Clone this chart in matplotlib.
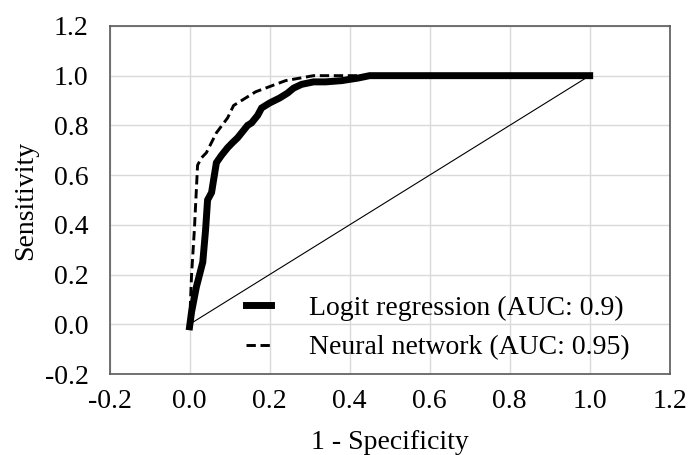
import matplotlib
matplotlib.use('Agg')
import matplotlib.pyplot as plt

# ROC points
logit_fpr = [0.0, 0.005, 0.017, 0.033, 0.04, 0.045, 0.055, 0.067, 0.08, 0.095, 0.107,
             0.12, 0.13, 0.145, 0.155, 0.17, 0.18, 0.2, 0.225, 0.245, 0.26, 0.28, 0.31,
             0.34, 0.38, 0.42, 0.45, 1.0]
logit_tpr = [-0.01, 0.05, 0.15, 0.25, 0.38, 0.50, 0.53, 0.65, 0.68, 0.71, 0.73,
             0.75, 0.77, 0.80, 0.81, 0.84, 0.87, 0.89, 0.91, 0.93, 0.95, 0.965, 0.975,
             0.975, 0.98, 0.99, 1.0, 1.0]

nn_fpr = [0.0, 0.005, 0.012, 0.02, 0.03, 0.042, 0.067, 0.095, 0.11, 0.14, 0.165,
          0.19, 0.24, 0.31, 1.0]
nn_tpr = [0.0, 0.2, 0.38, 0.64, 0.67, 0.69, 0.77, 0.83, 0.88, 0.91, 0.935,
          0.95, 0.98, 1.0, 1.0]

ref_x = [0.0, 1.0]
ref_y = [0.0, 1.0]

x_ticks = [-0.2, 0.0, 0.2, 0.4, 0.6, 0.8, 1.0, 1.2]
y_ticks = [-0.2, 0.0, 0.2, 0.4, 0.6, 0.8, 1.0, 1.2]

plt.rcParams['font.family'] = ['Liberation Serif', 'DejaVu Serif']

fig = plt.figure(figsize=(6.89, 4.55), dpi=100)
ax = fig.add_axes([0.159, 0.178, 0.813, 0.765])

ax.plot(ref_x, ref_y, color='black', linewidth=0.8)
ax.plot(nn_fpr, nn_tpr, color='black', linewidth=2.1, linestyle=(0, (3.2, 1.6)),
        label='Neural network (AUC: 0.95)', zorder=3)
ax.plot(logit_fpr, logit_tpr, color='black', linewidth=5, solid_joinstyle='miter',
        label='Logit regression (AUC: 0.9)', zorder=4)

ax.set_xlim(-0.2, 1.2)
ax.set_ylim(-0.2, 1.2)
ax.set_xticks(x_ticks)
ax.set_yticks(y_ticks)
ax.xaxis.set_major_formatter(matplotlib.ticker.FormatStrFormatter('%.1f'))
ax.yaxis.set_major_formatter(matplotlib.ticker.FormatStrFormatter('%.1f'))
ax.tick_params(axis='y', length=0, labelsize=20, pad=15)
ax.tick_params(axis='x', length=0, labelsize=20, pad=11)
ax.grid(True, color='#d9d9d9', linewidth=1)
ax.set_axisbelow(True)
for s in ax.spines.values():
    s.set_color('#595959')
    s.set_linewidth(1.2)

ax.set_xlabel('1 - Specificity', fontsize=20, labelpad=11)
ax.set_ylabel('Sensitivity', fontsize=20, labelpad=5)

h, l = ax.get_legend_handles_labels()
ax.legend(h[::-1], l[::-1], loc='lower left', bbox_to_anchor=(0.208, -0.017),
          frameon=False, fontsize=20, handlelength=0.9, handletextpad=1.4,
          labelspacing=0.5, borderpad=0.2)

fig.savefig('out.png', dpi=100)
